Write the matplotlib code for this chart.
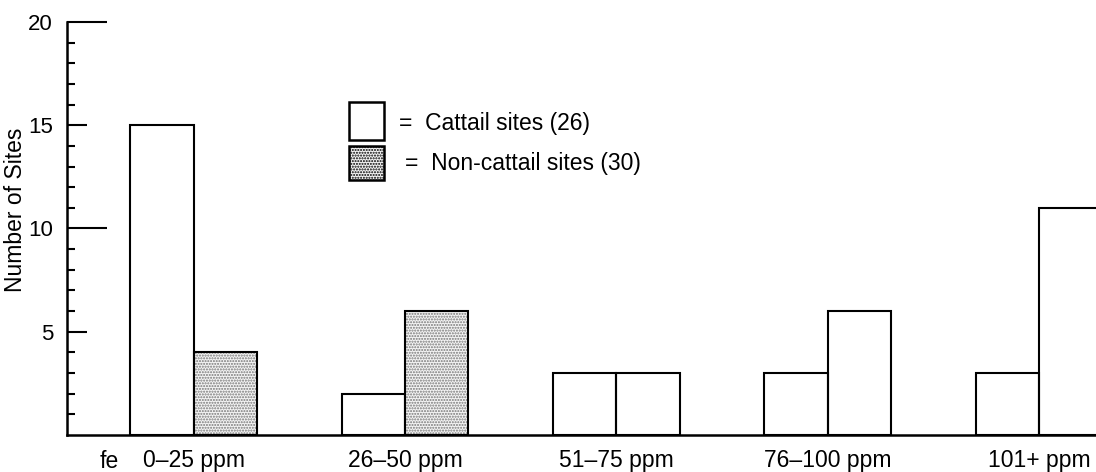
import numpy as np
import matplotlib
matplotlib.use("Agg")
from matplotlib import pyplot as plt
from matplotlib.patches import Rectangle

plt.rcParams['font.family'] = ['Liberation Sans', 'DejaVu Sans']

# data
ranges = ["0\u201325 ppm", "26\u201350 ppm", "51\u201375 ppm", "76\u2013100 ppm", "101+ ppm"]
cattail = [15, 2, 3, 3, 3]
non_cattail = [4, 6, 3, 6, 11]
y_ticks = [5, 10, 15, 20]
legend_labels = ["=  Cattail sites (26)", "=  Non-cattail sites (30)"]

# stipple faded out of the scan after the second group
shaded = [True, True, False, False, False]

W, H = 1096, 472
fig = plt.figure(figsize=(W / 100, H / 100), dpi=100)
ax = fig.add_axes([67 / W, 1 - 435 / H, 1 - 67 / W, (435 - 22) / H])

x = np.arange(len(ranges))
bw = 0.3
ax.bar(x - bw / 2, cattail, bw, facecolor="white", edgecolor="black", linewidth=1.5)
for i in range(len(ranges)):
    if shaded[i]:
        ax.bar(x[i] + bw / 2, non_cattail[i], bw, facecolor="#f4f4f4", edgecolor="#777777",
               hatch="......", linewidth=0)
ax.bar(x + bw / 2, non_cattail, bw, facecolor="none", edgecolor="black", linewidth=1.5)

ax.set_xlim(-0.60, 4.27)
ax.set_ylim(0, 20)
for s in ["top", "right"]:
    ax.spines[s].set_visible(False)
ax.spines["left"].set_linewidth(1.8)
ax.spines["bottom"].set_linewidth(1.8)

ax.set_yticks(y_ticks)
ax.set_yticks(np.arange(1, 20), minor=True)
ax.tick_params(axis="y", which="both", direction="in", width=1.5, labelsize=16, pad=10)
ax.tick_params(axis="y", which="minor", length=5.5)
ax.tick_params(axis="y", which="major", length=14.5)
for t, v in zip(ax.yaxis.get_major_ticks(), y_ticks):
    if v % 10 == 0:
        t.tick1line.set_markersize(29)

ax.set_xticks(x)
ax.set_xticklabels(ranges, fontsize=16.5)
ax.tick_params(axis="x", length=0, pad=10)
ax.text(-0.40, -1.3, "fe", fontsize=16.5, ha="center", va="center")

fig.text(16 / W, 1 - 210 / H, "Number of Sites", rotation=90, fontsize=16.5,
         ha="center", va="center")

# legend drawn by hand like the original figure
boxes = [(349, 102, 35, 38), (349, 146, 35, 34)]
text_pos = [(399, 123), (405, 163)]
for k, (bx, by, bwid, bh) in enumerate(boxes):
    r = Rectangle((bx / W, 1 - (by + bh) / H), bwid / W, bh / H, transform=fig.transFigure,
                  facecolor="#f4f4f4" if k else "white", edgecolor="black", linewidth=1.8,
                  hatch="......" if k else None)
    fig.add_artist(r)
    tx, ty = text_pos[k]
    fig.text(tx / W, 1 - ty / H, legend_labels[k], fontsize=16.5, ha="left", va="center")

fig.savefig("out.png", dpi=100)
